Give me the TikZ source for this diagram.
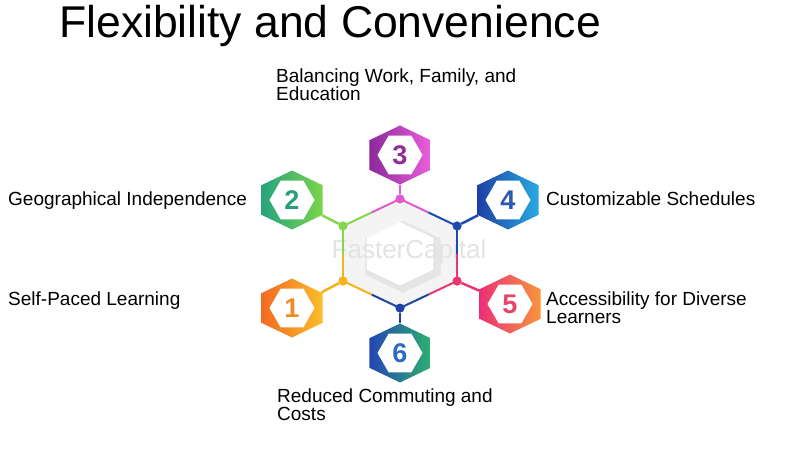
\documentclass[tikz,border=0pt]{standalone}
\usepackage{fontspec}
\setmainfont{Liberation Sans}
\usepackage{tikz}
\usetikzlibrary{shapes.geometric, calc}
\usepackage{xcolor}
\definecolor{oneA}{HTML}{F36A21}
\definecolor{oneB}{HTML}{FBBD2B}
\definecolor{oneN}{HTML}{F28A1F}
\definecolor{oneD}{HTML}{F6B21B}
\definecolor{twoA}{HTML}{27A37E}
\definecolor{twoB}{HTML}{7AD54A}
\definecolor{twoN}{HTML}{2B9E7A}
\definecolor{twoD}{HTML}{86D64C}
\definecolor{thrA}{HTML}{8C2A9C}
\definecolor{thrB}{HTML}{EA5EDB}
\definecolor{thrN}{HTML}{922D9C}
\definecolor{thrD}{HTML}{E05AD0}
\definecolor{fouA}{HTML}{1E3FA6}
\definecolor{fouB}{HTML}{29ABE2}
\definecolor{fouN}{HTML}{2B58B2}
\definecolor{fouD}{HTML}{1E4AAE}
\definecolor{fivA}{HTML}{EC2F79}
\definecolor{fivB}{HTML}{F7963A}
\definecolor{fivN}{HTML}{E7456A}
\definecolor{fivD}{HTML}{E9376F}
\definecolor{sixA}{HTML}{2345B5}
\definecolor{sixB}{HTML}{2DB070}
\definecolor{sixN}{HTML}{2C6CC4}
\definecolor{sixD}{HTML}{2144A4}
\tikzstyle{hexa} = [regular polygon, regular polygon sides=6, shape border rotate=30, minimum size=59pt, inner sep=0pt, xscale=1.2]
\tikzstyle{hexin} = [regular polygon, regular polygon sides=6, minimum size=45pt, inner sep=0pt, fill=white]
\tikzstyle{num} = [font=\fontsize{27}{27}\selectfont\bfseries]
\tikzstyle{dot} = [circle, inner sep=0pt, minimum size=9pt]
\tikzstyle{link} = [line width=2.5pt]
\tikzstyle{lbl} = [anchor=base west, inner sep=0pt, align=left, font=\fontsize{19}{18}\selectfont]

\begin{document}
\begin{tikzpicture}[x=1pt, y=-1pt]
    \useasboundingbox (0,0) rectangle (800,450);
    \node[anchor=base west, inner sep=0pt, font=\fontsize{44.5}{44.5}\selectfont] (title) at (59,37) {Flexibility and Convenience};

    \coordinate (c) at (400,254);
    \node[dot, fill=oneD] (d1) at (343,281) {};
    \node[dot, fill=twoD] (d2) at (343,226) {};
    \node[dot, fill=thrD] (d3) at (400,199) {};
    \node[dot, fill=fouD] (d4) at (457,226) {};
    \node[dot, fill=fivD] (d5) at (457,281) {};
    \node[dot, fill=sixD] (d6) at (400,308) {};

    \node[hexa, left color=oneA, right color=oneB] (h1) at (292,308) {};
    \node[hexa, left color=twoA, right color=twoB] (h2) at (292,200) {};
    \node[hexa, left color=thrA, right color=thrB] (h3) at (400,155) {};
    \node[hexa, left color=fouA, right color=fouB] (h4) at (508,200) {};
    \node[hexa, left color=fivA, right color=fivB] (h5) at (510,304) {};
    \node[hexa, left color=sixA, right color=sixB] (h6) at (400,353) {};

    \draw[link, oneD] (d1) -- (h1);
    \draw[link, twoD] (d2) -- (h2);
    \draw[link, thrD] (d3) -- (h3);
    \draw[link, fouD] (d4) -- (h4);
    \draw[link, fivD] (d5) -- (h5);
    \draw[link, sixD] (d6) -- (h6);

    \foreach \n/\col in {1/oneN, 2/twoN, 3/thrN, 4/fouN, 5/fivN, 6/sixN}
        \node[hexin] (in\n) at (h\n) {} node[num, text=\col] at (h\n) {\n};

    \fill[gray!9] (d1.center) -- (d2.center) -- (d3.center) -- (d4.center) -- (d5.center) -- (d6.center) -- cycle;
    \fill[gray!20] ($(c)!.66!(d1.center)+(3,3)$) -- ($(c)!.66!(d2.center)+(3,3)$) -- ($(c)!.66!(d3.center)+(3,3)$) -- ($(c)!.66!(d4.center)+(3,3)$) -- ($(c)!.66!(d5.center)+(3,3)$) -- ($(c)!.66!(d6.center)+(3,3)$) -- cycle;
    \fill[white] ($(c)!.58!(d1.center)$) -- ($(c)!.58!(d2.center)$) -- ($(c)!.58!(d3.center)$) -- ($(c)!.58!(d4.center)$) -- ($(c)!.58!(d5.center)$) -- ($(c)!.58!(d6.center)$) -- cycle;
    \node[text=gray!22, font=\fontsize{26}{26}\selectfont] (mark) at (409,252) {FasterCapital};

    \foreach \a/\b/\ca/\cb in {1/2/oneD/twoD, 2/3/twoD/thrD, 3/4/thrD/fouD, 4/5/fouD/fivD, 5/6/fivD/sixD, 6/1/sixD/oneD} {
        \draw[line width=2pt, \ca] (d\a.center) -- ($(d\a.center)!.5!(d\b.center)$);
        \draw[line width=2pt, \cb] ($(d\a.center)!.5!(d\b.center)$) -- (d\b.center);
    }
    \foreach \n/\col in {1/oneD, 2/twoD, 3/thrD, 4/fouD, 5/fivD, 6/sixD}
        \fill[\col] (d\n) circle (4.5);

    \node[lbl] (l3) at (276,100) {Balancing Work, Family, and\\Education};
    \node[lbl] (l2) at (8,205) {Geographical Independence};
    \node[lbl] (l4) at (546,205) {Customizable Schedules};
    \node[lbl] (l1) at (8,305) {Self-Paced Learning};
    \node[lbl] (l5) at (546,323) {Accessibility for Diverse\\Learners};
    \node[lbl] (l6) at (277,420) {Reduced Commuting and\\Costs};
\end{tikzpicture}
\end{document}
